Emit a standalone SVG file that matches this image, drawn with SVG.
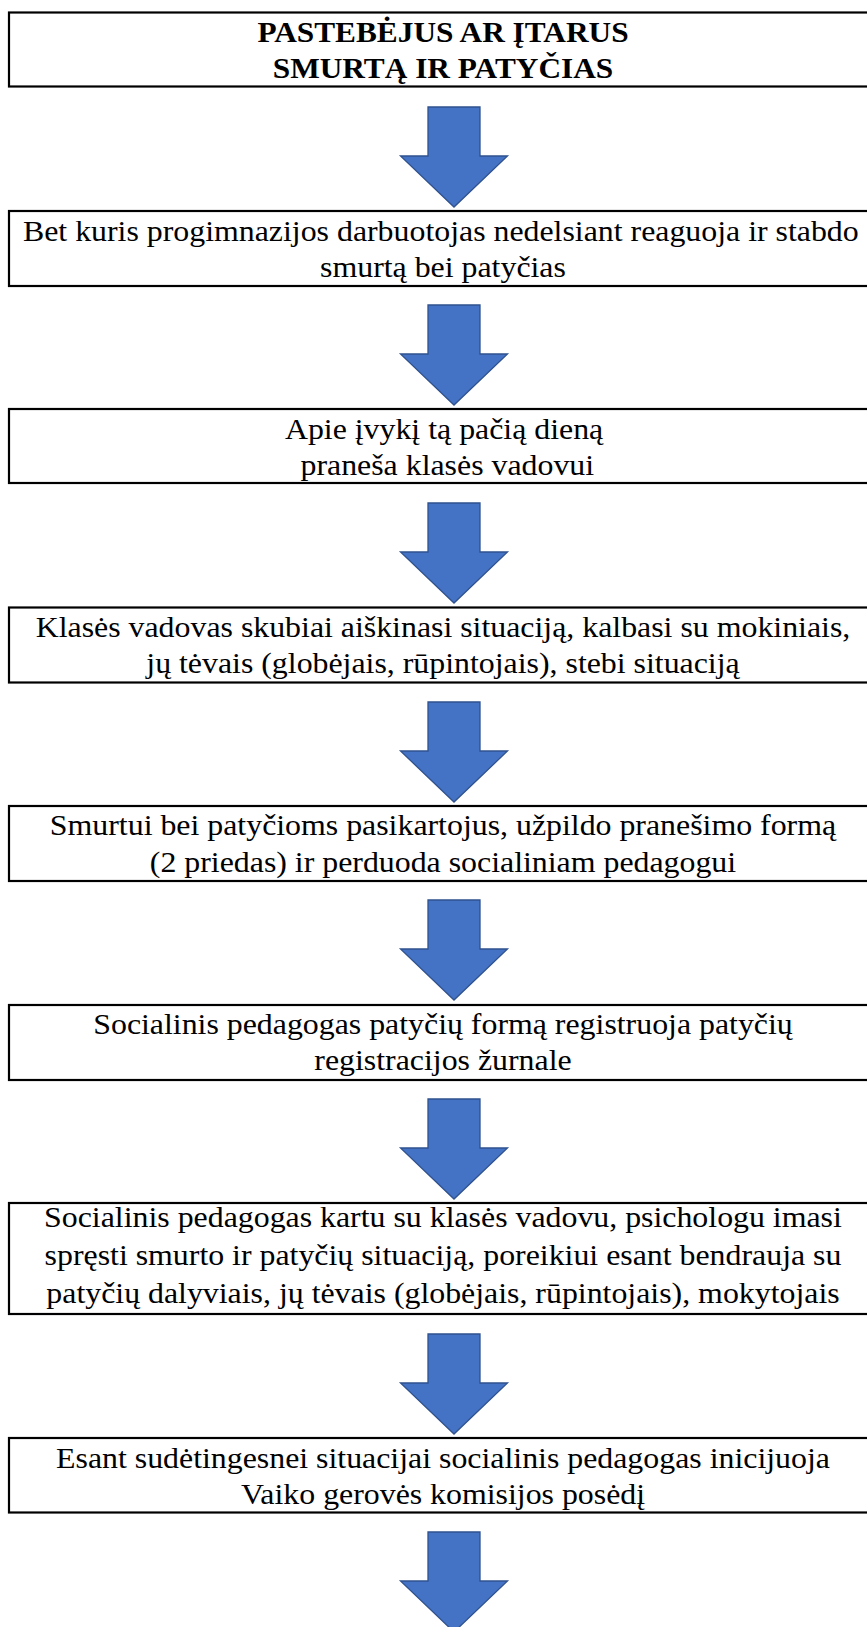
<svg xmlns="http://www.w3.org/2000/svg" width="867" height="1627" viewBox="0 0 867 1627">
<style>
.box{fill:#fff;stroke:#000;stroke-width:2.2}
.t{font-family:"Liberation Serif","Times New Roman",serif;font-size:29.5px;fill:#000;text-anchor:middle}
.h{font-family:"Liberation Serif","Times New Roman",serif;font-size:29px;font-weight:bold;fill:#000;text-anchor:middle}
.arr{fill:#4472C4;stroke:#2F528F;stroke-width:1.3;stroke-linejoin:miter}
</style>
<defs>
<path id="a" class="arr" d="M428,0 L480,0 L480,49 L507.5,49 L454,100 L400.5,49 L428,49 Z"/>
</defs>
<rect width="867" height="1627" fill="#fff"/>
<g id="connectors">
<use href="#a" y="107"/>
<use href="#a" y="305"/>
<use href="#a" y="503"/>
<use href="#a" y="702"/>
<use href="#a" y="900"/>
<use href="#a" y="1099"/>
<use href="#a" y="1334"/>
<use href="#a" y="1532"/>
</g>
<g id="n1"><rect class="box" x="9" y="12.5" width="870" height="74"/>
<g transform="translate(443,0) scale(1.08,1) translate(-443,0)"><text class="h" x="443" y="42.5">PASTEBĖJUS AR ĮTARUS</text><text class="h" x="443" y="78.5">SMURTĄ IR PATYČIAS</text></g></g>
<g id="n2"><rect class="box" x="9" y="211" width="870" height="75"/>
<g transform="translate(443,0) scale(1.08,1) translate(-443,0)"><text class="t" x="441" y="241">Bet kuris progimnazijos darbuotojas nedelsiant reaguoja ir stabdo</text><text class="t" x="443" y="277">smurtą bei patyčias</text></g></g>
<g id="n3"><rect class="box" x="9" y="409" width="870" height="74"/>
<g transform="translate(443,0) scale(1.08,1) translate(-443,0)"><text class="t" x="444" y="439">Apie įvykį tą pačią dieną</text><text class="t" x="447" y="475">praneša klasės vadovui</text></g></g>
<g id="n4"><rect class="box" x="9" y="607.5" width="870" height="75"/>
<g transform="translate(443,0) scale(1.08,1) translate(-443,0)"><text class="t" x="443" y="637">Klasės vadovas skubiai aiškinasi situaciją, kalbasi su mokiniais,</text><text class="t" x="443" y="673">jų tėvais (globėjais, rūpintojais), stebi situaciją</text></g></g>
<g id="n5"><rect class="box" x="9" y="806" width="870" height="75"/>
<g transform="translate(443,0) scale(1.08,1) translate(-443,0)"><text class="t" x="443" y="835">Smurtui bei patyčioms pasikartojus, užpildo pranešimo formą</text><text class="t" x="443" y="872">(2 priedas) ir perduoda socialiniam pedagogui</text></g></g>
<g id="n6"><rect class="box" x="9" y="1005" width="870" height="75"/>
<g transform="translate(443,0) scale(1.08,1) translate(-443,0)"><text class="t" x="443" y="1034">Socialinis pedagogas patyčių formą registruoja patyčių</text><text class="t" x="443" y="1070">registracijos žurnale</text></g></g>
<g id="n7"><rect class="box" x="9" y="1203" width="870" height="111"/>
<g transform="translate(443,0) scale(1.08,1) translate(-443,0)"><text class="t" x="443" y="1227">Socialinis pedagogas kartu su klasės vadovu, psichologu imasi</text><text class="t" x="443" y="1265">spręsti smurto ir patyčių situaciją, poreikiui esant bendrauja su</text><text class="t" x="443" y="1303">patyčių dalyviais, jų tėvais (globėjais, rūpintojais), mokytojais</text></g></g>
<g id="n8"><rect class="box" x="9" y="1438" width="870" height="74.5"/>
<g transform="translate(443,0) scale(1.08,1) translate(-443,0)"><text class="t" x="443" y="1468">Esant sudėtingesnei situacijai socialinis pedagogas inicijuoja</text><text class="t" x="443" y="1504">Vaiko gerovės komisijos posėdį</text></g></g>
</svg>
